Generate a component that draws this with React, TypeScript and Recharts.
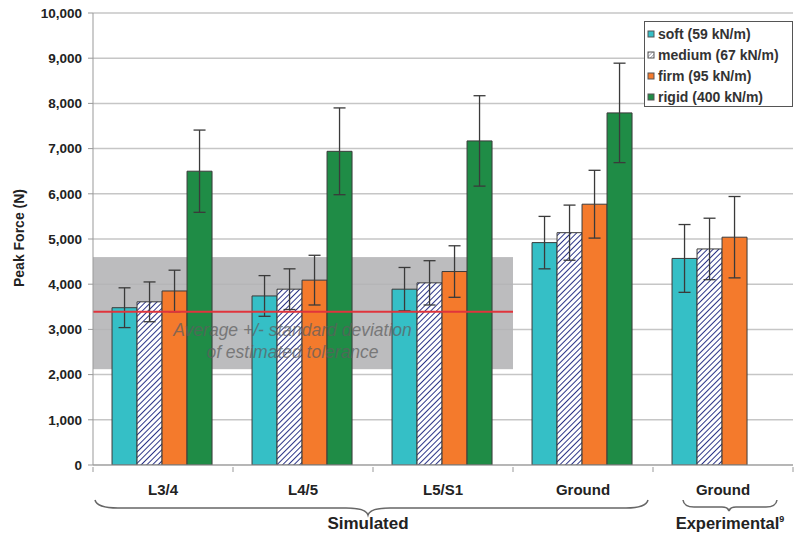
import React from 'react';
import {
  ComposedChart,
  Bar,
  XAxis,
  YAxis,
  CartesianGrid,
  ErrorBar,
  ReferenceArea,
  ReferenceLine,
  Legend,
} from 'recharts';

// ---- data ----
const categories = ['L3/4', 'L4/5', 'L5/S1', 'Ground', 'Ground'];
const groupIds = ['sim-L34', 'sim-L45', 'sim-L5S1', 'sim-ground', 'exp-ground'];

const softValues = [3480, 3740, 3890, 4920, 4570];
const softErrors = [440, 450, 480, 580, 750];
const mediumValues = [3610, 3890, 4030, 5140, 4780];
const mediumErrors = [440, 450, 490, 610, 680];
const firmValues = [3850, 4090, 4280, 5770, 5040];
const firmErrors = [460, 550, 570, 750, 900];
const rigidValues: (number | null)[] = [6500, 6940, 7170, 7790, null];
const rigidErrors: (number | null)[] = [910, 960, 1000, 1100, null];

const seriesNames = ['soft (59 kN/m)', 'medium (67 kN/m)', 'firm (95 kN/m)', 'rigid (400 kN/m)'];
const yTicks = [0, 1000, 2000, 3000, 4000, 5000, 6000, 7000, 8000, 9000, 10000];
const toleranceBand = [2120, 4600];
const toleranceMean = 3390;
const toleranceSpan = [0, 3];
const toleranceText = ['Average +/- standard deviation', 'of estimated tolerance'];
const yAxisTitle = 'Peak Force (N)';
const groupTitles = ['Simulated', 'Experimental'];

const data = groupIds.map((id, i) => ({
  id,
  pos: i + 0.5,
  soft: softValues[i],
  softErr: softErrors[i],
  medium: mediumValues[i],
  mediumErr: mediumErrors[i],
  firm: firmValues[i],
  firmErr: firmErrors[i],
  rigid: rigidValues[i],
  rigidErr: rigidErrors[i],
}));

// ---- styles ----
const FONT = '"Liberation Sans", Arial, sans-serif';
const SOFT = '#35bfc6';
const HATCH = '#2c3588';
const FIRM = '#f47a2c';
const RIGID = '#1f8c46';
const BAR_STROKE = '#3a3a3a';
const legendFills = [SOFT, 'url(#hatchLegend)', FIRM, RIGID];

const XTick = (props: any) => {
  const { x, y, payload, index } = props;
  const idx = groupIds.indexOf(payload.value);
  const half = payload.offset || 0;
  const isLast = idx === groupIds.length - 1 || index === groupIds.length - 1;
  return (
    <g>
      <line x1={x - half} y1={y} x2={x - half} y2={y + 5} stroke="#999" />
      {isLast && <line x1={x + half} y1={y} x2={x + half} y2={y + 5} stroke="#999" />}
      <text x={x} y={y + 28} textAnchor="middle" fontFamily={FONT} fontWeight="bold" fontSize={15} fill="#222">
        {categories[idx]}
      </text>
    </g>
  );
};

const YTitle = (props: any) => {
  const vb = props.viewBox || { x: 0, y: 13, width: 93, height: 452 };
  const cx = vb.x + 19;
  const cy = vb.y + vb.height / 2 - 1;
  return (
    <text
      x={cx}
      y={cy}
      transform={`rotate(-90 ${cx} ${cy})`}
      textAnchor="middle"
      dominantBaseline="central"
      fontFamily={FONT}
      fontWeight="bold"
      fontSize={14}
      fill="#222"
    >
      {yAxisTitle}
    </text>
  );
};

const BandShape = (props: any) => {
  const { x, y, width, height } = props;
  return <rect x={x} y={y} width={width} height={height} fill="#b3b3b5" fillOpacity={0.88} />;
};

const BandText = (props: any) => {
  const vb = props.viewBox || { x: 0, y: 0, width: 0, height: 0 };
  const cx = vb.x + vb.width * 0.475;
  return (
    <g opacity={0.72}>
      <text x={cx} y={vb.y + 24} textAnchor="middle" fontFamily={FONT} fontStyle="italic" fontSize={17.5} fill="#5e5e5e">
        {toleranceText[0]}
      </text>
      <text x={cx} y={vb.y + 46} textAnchor="middle" fontFamily={FONT} fontStyle="italic" fontSize={17.5} fill="#5e5e5e">
        {toleranceText[1]}
      </text>
    </g>
  );
};

const renderLegend = () => (
  <div
    style={{
      boxSizing: 'border-box',
      width: 149,
      height: 86,
      border: '1px solid #555',
      background: '#fff',
      padding: '1px 0 0 2px',
      fontFamily: FONT,
      fontWeight: 'bold',
      fontSize: 14,
      color: '#333',
    }}
  >
    <svg width={0} height={0} style={{ position: 'absolute' }}>
      <defs>
        <pattern id="hatchLegend" patternUnits="userSpaceOnUse" width="2.5" height="2.5" patternTransform="rotate(45)">
          <rect width="2.5" height="2.5" fill="#fff" />
          <line x1="0" y1="0" x2="0" y2="2.5" stroke="#6a6a80" strokeWidth="1" />
        </pattern>
      </defs>
    </svg>
    {seriesNames.map((n, i) => (
      <div key={n} style={{ display: 'flex', alignItems: 'center', height: 21, whiteSpace: 'nowrap' }}>
        <svg width={9} height={10} style={{ marginRight: 2 }}>
          <rect x={1} y={2} width={6} height={6} fill={legendFills[i]} stroke="#555" strokeWidth={1} />
        </svg>
        <span>{n}</span>
      </div>
    ))}
  </div>
);

const Overlay = () => (
  <svg
    width={800}
    height={538}
    style={{ position: 'absolute', left: 0, top: 0, pointerEvents: 'none' }}
  >
    <path
      d="M95,500 Q97,508 118,508 L346,508 Q366,508 368,515 Q370,508 390,508 L626,508 Q646,508 648,500"
      fill="none"
      stroke="#666"
      strokeWidth={1.5}
    />
    <text x={368} y={529} textAnchor="middle" fontFamily={FONT} fontWeight="bold" fontSize={17} fill="#222">
      {groupTitles[0]}
    </text>
    <path
      d="M683,500 Q684,507 694,507 L722,507 Q728,507 729,511 Q730,507 736,507 L766,507 Q776,507 777,500"
      fill="none"
      stroke="#666"
      strokeWidth={1.5}
    />
    <text x={730} y={529} textAnchor="middle" fontFamily={FONT} fontWeight="bold" fontSize={16.5} fill="#222">
      {groupTitles[1]}
      <tspan fontSize={9} dy={-7}>9</tspan>
    </text>
  </svg>
);

export default function App() {
  return (
    <div style={{ position: 'absolute', left: 0, top: 0, width: 800, height: 538, background: '#fff' }}>
      <ComposedChart
        width={800}
        height={538}
        data={data}
        margin={{ top: 13, right: 7, bottom: 43, left: 0 }}
        barCategoryGap="13.6%"
        barGap={0}
      >
        <defs>
          <pattern id="hatchMedium" patternUnits="userSpaceOnUse" width="4" height="4" patternTransform="rotate(45)">
            <rect width="4" height="4" fill="#fff" />
            <line x1="0" y1="0" x2="0" y2="4" stroke={HATCH} strokeWidth="2" />
          </pattern>
        </defs>
        <CartesianGrid xAxisId="cat" vertical={false} stroke="#c6c6c6" strokeWidth={1.5} />
        <XAxis
          xAxisId="cat"
          dataKey="id"
          tick={<XTick />}
          tickLine={false}
          tickSize={0}
          axisLine={{ stroke: '#999' }}
          height={30}
          interval={0}
        />
        <XAxis
          xAxisId="num"
          dataKey="pos"
          type="number"
          domain={[0, 5]}
          allowDataOverflow
          hide
        />
        <YAxis
          width={93}
          domain={[0, 10000]}
          ticks={yTicks}
          tickFormatter={(v: number) => v.toLocaleString('en-US')}
          tick={{ fontFamily: FONT, fontWeight: 'bold', fontSize: 13.5, fill: '#222' }}
          tickSize={5}
          tickMargin={6}
          axisLine={{ stroke: '#999' }}
          tickLine={{ stroke: '#999' }}
          label={<YTitle />}
          allowDataOverflow
        />
        <ReferenceArea
          xAxisId="num"
          x1={toleranceSpan[0]}
          x2={toleranceSpan[1]}
          y1={toleranceBand[0]}
          y2={toleranceBand[1]}
          ifOverflow="visible"
          shape={<BandShape />}
        />
        <Bar xAxisId="cat" dataKey="soft" name={seriesNames[0]} fill={SOFT} stroke={BAR_STROKE} strokeWidth={1} isAnimationActive={false}>
          <ErrorBar dataKey="softErr" direction="y" width={6} stroke="#3a3a3a" strokeWidth={1.3} />
        </Bar>
        <Bar xAxisId="cat" dataKey="medium" name={seriesNames[1]} fill="url(#hatchMedium)" stroke={BAR_STROKE} strokeWidth={1} isAnimationActive={false}>
          <ErrorBar dataKey="mediumErr" direction="y" width={6} stroke="#3a3a3a" strokeWidth={1.3} />
        </Bar>
        <Bar xAxisId="cat" dataKey="firm" name={seriesNames[2]} fill={FIRM} stroke={BAR_STROKE} strokeWidth={1} isAnimationActive={false}>
          <ErrorBar dataKey="firmErr" direction="y" width={6} stroke="#3a3a3a" strokeWidth={1.3} />
        </Bar>
        <Bar xAxisId="cat" dataKey="rigid" name={seriesNames[3]} fill={RIGID} stroke={BAR_STROKE} strokeWidth={1} isAnimationActive={false}>
          <ErrorBar dataKey="rigidErr" direction="y" width={6} stroke="#3a3a3a" strokeWidth={1.3} />
        </Bar>
        <ReferenceLine
          xAxisId="num"
          segment={[
            { x: toleranceSpan[0], y: toleranceMean },
            { x: toleranceSpan[1], y: toleranceMean },
          ]}
          ifOverflow="visible"
          stroke="#e0343c"
          strokeWidth={2}
          label={<BandText />}
        />
        <Legend
          layout="vertical"
          align="center"
          verticalAlign="middle"
          wrapperStyle={{ left: 644, top: 21, width: 149, height: 86 }}
          content={renderLegend}
        />
      </ComposedChart>
      <Overlay />
    </div>
  );
}
